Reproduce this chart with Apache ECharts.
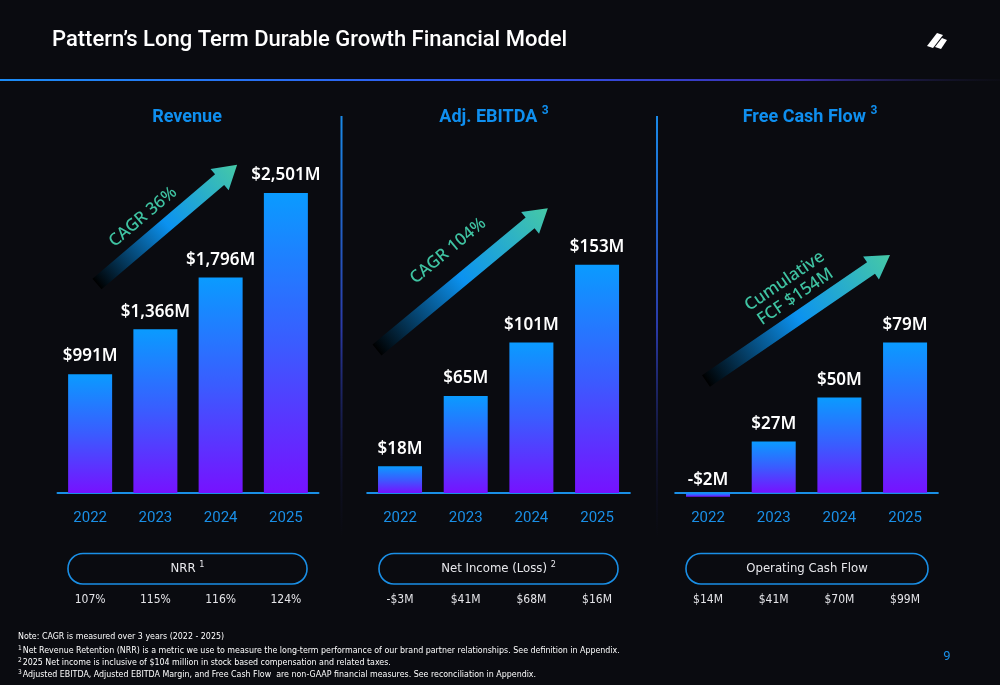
<!DOCTYPE html>
<html><head><meta charset="utf-8">
<script src="https://cdn.jsdelivr.net/npm/echarts@6/dist/echarts.min.js"></script>
<style>html,body{margin:0;padding:0;background:#0a0b10;}#c{width:1000px;height:685px;}</style>
</head><body><div id="c"></div>
<script>
const years = ['2022', '2023', '2024', '2025'];
const revenue = [991, 1366, 1796, 2501];
const ebitda = [18, 65, 101, 153];
const fcf = [-2, 27, 50, 79];
const nrr = ['107%', '115%', '116%', '124%'];
const netIncome = ['-$3M', '$41M', '$68M', '$16M'];
const opCashFlow = ['$14M', '$41M', '$70M', '$99M'];
const panelTitles = ['Revenue', 'Adj. EBITDA', 'Free Cash Flow'];
const panelSup = ['', '3', '3'];
const pillLabels = ['NRR', 'Net Income (Loss)', 'Operating Cash Flow'];
const pillSup = ['1', '2', ''];
const arrowLabels = ['CAGR 36%', 'CAGR 104%', 'Cumulative\nFCF $154M'];
const footnotes = [
  ['', 'Note: CAGR is measured over 3 years (2022 - 2025)'],
  ['1', 'Net Revenue Retention (NRR) is a metric we use to measure the long-term performance of our brand partner relationships. See definition in Appendix.'],
  ['2', '2025 Net income is inclusive of $104 million in stock based compensation and related taxes.'],
  ['3', 'Adjusted EBITDA, Adjusted EBITDA Margin, and Free Cash Flow  are non-GAAP financial measures. See reconciliation in Appendix.']
];
const pageNumber = '9';

const chart = echarts.init(document.getElementById('c'), null, {renderer: 'canvas'});
const BLUE = '#1a8fe6';
const FONT = 'Roboto, "Noto Sans", sans-serif';
const NARROW = '"Liberation Sans Narrow", "DejaVu Sans Condensed", Roboto, sans-serif';

function money(v) { return (v < 0 ? '-' : '') + '$' + Math.abs(v).toLocaleString('en-US') + 'M'; }
const barGrad = () => new echarts.graphic.LinearGradient(0, 0, 0, 1, [
  {offset: 0, color: '#0a9bff'}, {offset: 0.5, color: '#3a5cff'}, {offset: 1, color: '#7612ff'}
]);

const grids = [
  {left: 57.5, width: 261, top: 150, height: 343},
  {left: 367.2, width: 262.7, top: 150, height: 343},
  {left: 675.2, width: 262.7, top: 150, height: 360}
];
const yRanges = [[0, 2860], [0, 230], [-9, 180]];
const seriesData = [revenue, ebitda, fcf];
const subLabels = [nrr, netIncome, opCashFlow];
const subOffsets = [97, 97, 80];
const labelMargins = [18, 18, 1];

const xAxes = [], yAxes = [], series = [];
grids.forEach((g, i) => {
  xAxes.push({
    type: 'category', gridIndex: i, data: years, position: 'bottom',
    axisLine: {show: true, onZero: true, lineStyle: {color: BLUE, width: 2}},
    axisTick: {show: false},
    axisLabel: {color: BLUE, fontSize: 15, margin: labelMargins[i], fontFamily: FONT}
  });
  xAxes.push({
    type: 'category', gridIndex: i, data: subLabels[i], position: 'bottom', offset: subOffsets[i],
    axisLine: {show: false, onZero: false}, axisTick: {show: false},
    axisLabel: {color: '#e4e4e8', fontSize: 12, margin: 4, fontFamily: NARROW}
  });
  yAxes.push({type: 'value', gridIndex: i, min: yRanges[i][0], max: yRanges[i][1], show: false, splitLine: {show: false}});
  series.push({
    type: 'bar', xAxisIndex: i * 2, yAxisIndex: i, barWidth: 44,
    data: seriesData[i].map(v => v < 0 ? {value: v, label: {distance: 4}} : v),
    itemStyle: {color: barGrad()},
    label: {show: true, position: 'top', distance: 9, color: '#ffffff', fontSize: 17, fontWeight: 600,
      fontFamily: '"Noto Sans", Roboto, sans-serif', formatter: p => money(p.value)},
    silent: true
  });
});

function arrow(x, y, len, deg) {
  const hw = 7, hh = 14, hl = 23;
  return {
    type: 'polygon', x: x, y: y, rotation: deg * Math.PI / 180, silent: true,
    shape: {points: [[0, -hw], [len - hl, -hw], [len - hl, -hh], [len, 0], [len - hl, hh], [len - hl, hw], [0, hw]]},
    style: {fill: new echarts.graphic.LinearGradient(0, 0, 1, 0, [
      {offset: 0, color: '#000000'}, {offset: 0.5, color: '#0b92f0'}, {offset: 1, color: '#46c9a6'}
    ])}
  };
}
function arrowText(x, y, deg, text) {
  return {
    type: 'text', x: x, y: y, rotation: deg * Math.PI / 180, silent: true,
    style: {text: text, fill: '#3fc3a2', font: '500 17px "Noto Sans", Roboto, sans-serif',
      align: 'center', verticalAlign: 'middle', lineHeight: 19}
  };
}

const graphics = [
  {type: 'text', x: 52, y: 40, style: {text: 'Pattern\u2019s Long Term Durable Growth Financial Model', fill: '#ffffff',
    font: '500 22px ' + FONT, verticalAlign: 'middle'}},
  // logo
  {type: 'polygon', shape: {points: [[927, 46], [937, 33], [943, 35], [933, 48]]}, style: {fill: '#fff'}},
  {type: 'polygon', shape: {points: [[935, 47], [942, 38], [947, 40], [941, 49]]}, style: {fill: '#fff'}},
  {type: 'rect', shape: {x: 0, y: 79, width: 1000, height: 2}, style: {fill: new echarts.graphic.LinearGradient(0, 0, 1, 0, [
    {offset: 0, color: '#1c8cf5'}, {offset: 0.5, color: '#3256f0'}, {offset: 0.8, color: '#3a2fae'}, {offset: 1, color: 'rgba(30,30,60,0.1)'}
  ])}},
  {type: 'rect', shape: {x: 340.5, y: 116, width: 2, height: 422}, style: {fill: new echarts.graphic.LinearGradient(0, 0, 0, 1, [
    {offset: 0, color: '#1a8ae8'}, {offset: 0.5, color: '#2a3aa8'}, {offset: 1, color: 'rgba(20,20,60,0)'}
  ])}},
  {type: 'rect', shape: {x: 656, y: 116, width: 2, height: 422}, style: {fill: new echarts.graphic.LinearGradient(0, 0, 0, 1, [
    {offset: 0, color: '#1a8ae8'}, {offset: 0.5, color: '#2a3aa8'}, {offset: 1, color: 'rgba(20,20,60,0)'}
  ])}},
  arrow(97, 284, 184, 40.4), arrowText(143, 217, 40.4, arrowLabels[0]),
  arrow(377, 350, 222, 39.7), arrowText(448, 251, 39.7, arrowLabels[1]),
  arrow(706, 381, 223, 34.4), arrowText(790, 289, 34.4, arrowLabels[2]),
  {type: 'text', x: 947, y: 657, style: {text: pageNumber, fill: BLUE, font: '13px ' + FONT, align: 'center', verticalAlign: 'middle'}}
];

const panelCenters = [187, 494, 810];
panelTitles.forEach((t, i) => {
  graphics.push({type: 'text', x: panelCenters[i], y: 117, style: {
    text: t + (panelSup[i] ? ' {s|' + panelSup[i] + '}' : ''), fill: '#0f8fef',
    font: 'bold 18px ' + FONT, align: 'center', verticalAlign: 'middle',
    rich: {s: {fontSize: 12, fontWeight: 'bold', fill: '#0f8fef', padding: [0, 0, 12, 0], fontFamily: FONT}}
  }});
});
const pills = [[68, 239], [379, 239], [686, 242]];
pills.forEach((p, i) => {
  graphics.push({type: 'rect', shape: {x: p[0], y: 553.5, width: p[1], height: 30.5, r: 15}, style: {fill: 'none', stroke: BLUE, lineWidth: 1.6}});
  graphics.push({type: 'text', x: p[0] + p[1] / 2, y: 569, style: {
    text: pillLabels[i] + (pillSup[i] ? ' {s|' + pillSup[i] + '}' : ''), fill: '#e8e8ec',
    font: '13px ' + NARROW, align: 'center', verticalAlign: 'middle',
    rich: {s: {fontSize: 9, fill: '#e8e8ec', padding: [0, 0, 8, 0], fontFamily: NARROW}}
  }});
});
const footY = [637, 651, 663, 675];
footnotes.forEach((f, i) => {
  graphics.push({type: 'text', x: 18, y: footY[i], style: {
    text: (f[0] ? '{s|' + f[0] + '}' : '') + f[1], fill: '#ffffff', font: '8.8px ' + NARROW, verticalAlign: 'middle',
    rich: {s: {fontSize: 6.5, fill: '#ffffff', padding: [0, 1, 6, 0], fontFamily: NARROW}}
  }});
});

chart.setOption({
  backgroundColor: '#0a0b10',
  animation: false,
  grid: grids,
  xAxis: xAxes,
  yAxis: yAxes,
  series: series,
  graphic: graphics
});
</script>
</body></html>
